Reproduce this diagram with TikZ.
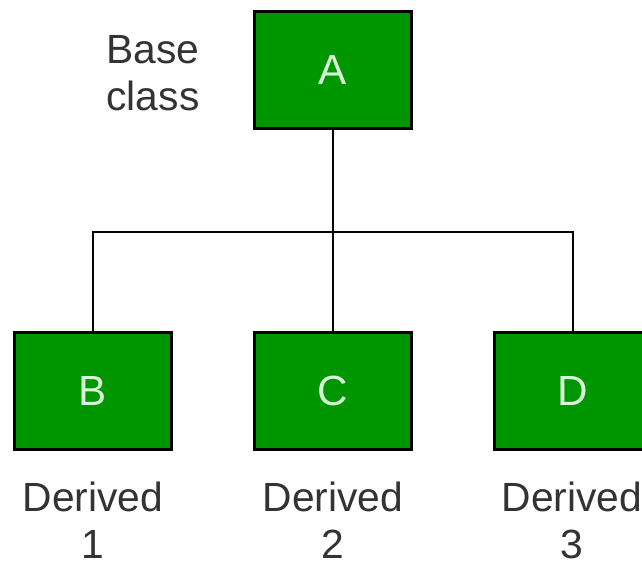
\documentclass[tikz,border=0pt]{standalone}
\usepackage{fontspec}
\setmainfont{Liberation Sans}
\definecolor{boxGreen}{RGB}{0,150,0}
\definecolor{boxText}{RGB}{215,245,215}
\begin{document}
\begin{tikzpicture}[x=0.025cm, y=-0.025cm, classStyle/.style={rectangle, draw=black, fill=boxGreen, line width=2.1pt, minimum width=3.93cm, minimum height=2.93cm, text=boxText, font=\fontsize{30}{34}\selectfont}, labelStyle/.style={align=center, text=black!80, font=\fontsize{29}{33.5}\selectfont}, lineStyle/.style={line width=2.1pt}]
                    \useasboundingbox (0, 0) rectangle (642, 564);
                    \node[classStyle] (A) at (333, 70) {A};
                    \node[labelStyle] (A_label) at (153, 73) {Base\\class};

                    \node[classStyle] (B) at ( 93, 391) {B};
                    \node[classStyle] (C) at (333, 391) {C};
                    \node[classStyle] (D) at (573, 391) {D};

                    \node[labelStyle] (B_label) at ( 93, 520) {Derived\\1};
                    \node[labelStyle] (C_label) at (333, 520) {Derived\\2};
                    \node[labelStyle] (D_label) at (572, 520) {Derived\\3};

                    \coordinate (junction) at (333, 232);
                    \draw[lineStyle] (A.south) -- (C.north);
                    \draw[lineStyle] (B.north) |- (junction) -| (D.north);
                \end{tikzpicture}
\end{document}
